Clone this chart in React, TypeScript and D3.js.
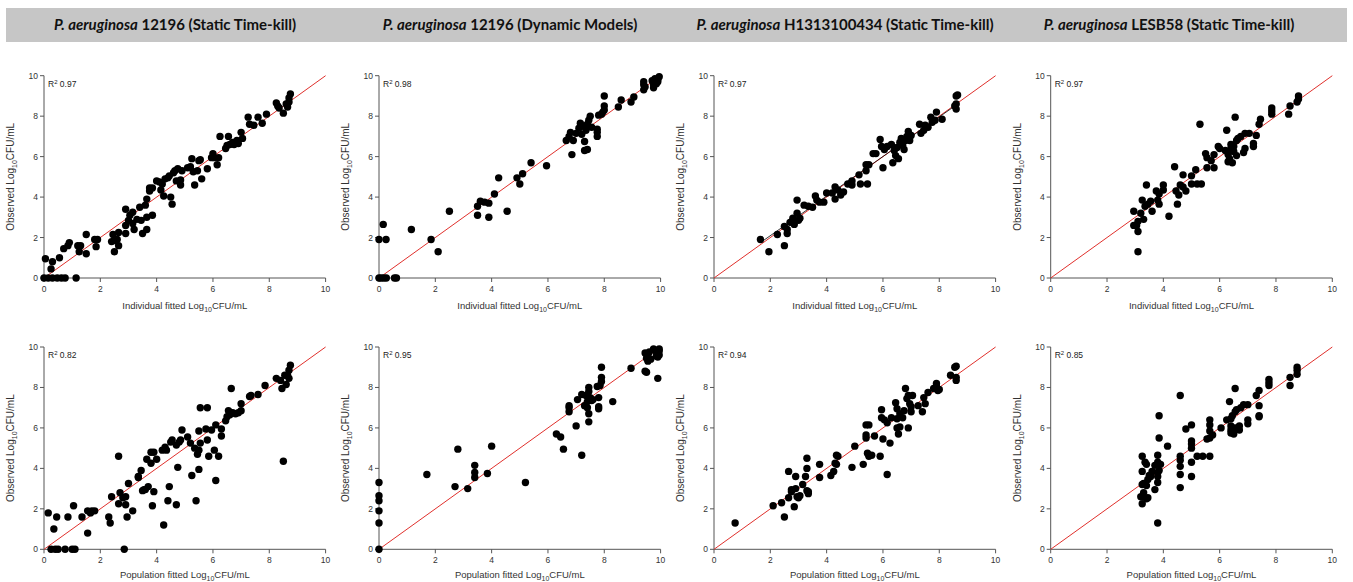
import React from "react";
import * as d3 from "d3";

const titles = [
  ["P. aeruginosa", " 12196 (Static Time-kill)"],
  ["P. aeruginosa", " 12196 (Dynamic Models)"],
  ["P. aeruginosa", " H1313100434 (Static Time-kill)"],
  ["P. aeruginosa", " LESB58 (Static Time-kill)"],
];
const titleCenters = [175, 510, 845, 1169];
const xTitles = ["Individual fitted ", "Population fitted "];
const r2Top = ["0.97", "0.98", "0.97", "0.97"];
const r2Bottom = ["0.82", "0.95", "0.94", "0.85"];
const ticks = [0, 2, 4, 6, 8, 10];

const p1Ind: number[][] = [
  [0,0],[0.15,0],[0.3,0],[0.47,0],[0.62,0],[0.75,0],[1.14,0],
  [0.05,0.95],[0.3,0.8],[0.25,0.45],[0.55,1.0],[0.7,1.45],[0.85,1.6],[0.9,1.75],[1.2,1.6],[1.25,1.3],[1.3,1.6],[1.5,2.15],[1.5,1.2],[1.8,1.9],[1.85,1.55],[1.9,1.9],
  [2.4,1.8],[2.5,1.85],[2.45,2.15],[2.5,1.3],[2.6,1.9],[2.65,1.6],[2.65,2.25],[2.9,2.2],[2.9,3.4],[2.9,2.6],[3.0,2.85],[3.05,3.1],[3.15,3.25],[3.15,2.7],[3.2,2.4],[3.3,2.9],[3.4,3.5],[3.45,2.85],[3.5,2.2],[3.6,3.6],[3.65,3.0],[3.65,2.4],[3.65,3.9],[3.75,4.3],[3.75,4.45],[3.85,3.1],[3.85,4.45],
  [4.0,4.8],[4.1,4.75],[4.15,4.35],[4.2,4.65],[4.25,4.05],[4.3,4.9],[4.4,4.95],[4.45,5.05],[4.5,4.0],[4.55,3.65],[4.6,5.2],[4.65,5.3],[4.7,4.8],[4.75,5.4],[4.85,4.6],[4.85,4.85],[4.9,5.3],
  [5.1,5.45],[5.2,5.5],[5.25,5.9],[5.3,5.25],[5.35,4.6],[5.45,5.3],[5.5,5.8],[5.55,5.85],[5.6,4.9],[5.8,5.4],[5.95,5.95],[6.0,6.15],[6.05,5.95],[6.15,5.6],[6.2,5.95],[6.25,7.0],
  [6.45,6.4],[6.5,6.55],[6.55,7.0],[6.6,6.6],[6.7,6.7],[6.75,6.6],[6.85,6.8],[6.9,6.65],[7.0,7.2],[7.05,6.9],[7.25,7.95],[7.3,7.6],[7.45,7.55],[7.6,7.95],[7.75,7.65],[7.9,8.1],
  [8.25,8.65],[8.3,8.5],[8.35,8.4],[8.5,8.15],[8.6,8.6],[8.65,8.45],[8.7,8.7],[8.75,9.1],[8.7,8.9],
];

const p2Ind: number[][] = [
  [0,0],[0.08,0],[0.17,0],[0.26,0],[0.55,0],[0.62,0],
  [0,1.9],[0.15,2.65],[0.25,1.9],[1.15,2.4],[1.85,1.9],[2.1,1.3],[2.5,3.3],[3.5,3.55],[3.5,3.1],[3.6,3.8],[3.75,3.75],[3.9,3.7],[3.9,3.0],[4.1,4.15],[4.25,4.95],[4.55,3.3],[4.9,4.95],[5.0,4.65],[5.1,5.15],[5.4,5.7],[5.95,5.55],
  [6.65,6.8],[6.75,7.0],[6.8,7.2],[6.85,6.1],[6.9,6.8],[7.0,7.15],[7.1,7.4],[7.15,7.65],[7.2,7.1],[7.25,7.5],[7.3,6.75],[7.3,6.3],[7.35,7.3],[7.4,7.6],[7.4,6.35],[7.45,7.8],[7.5,8.0],[7.55,7.45],[7.75,7.35],[7.75,7.0],[7.75,7.2],[7.8,8.05],[7.9,8.1],[7.95,8.2],[8.0,9.0],[8.0,8.5],[8.0,8.3],
  [8.5,8.45],[8.6,8.8],[8.95,8.7],[9.05,8.95],[9.4,9.3],[9.4,9.55],[9.4,9.7],[9.45,9.45],[9.75,9.4],[9.8,9.85],[9.85,9.6],[9.9,9.7],[9.95,9.95],[9.9,9.8],[9.7,9.75],[9.75,9.55],
];

const p3Ind: number[][] = [
  [1.65,1.9],[1.95,1.3],[2.25,2.15],[2.5,1.6],[2.5,2.55],[2.6,2.2],[2.6,2.4],[2.7,2.75],[2.8,2.95],[2.85,2.65],[2.95,3.85],[2.95,3.2],[3.0,2.85],[3.05,2.95],[3.2,3.6],[3.35,3.55],[3.5,3.5],[3.6,4.05],[3.65,3.85],[3.75,3.75],[3.9,3.75],
  [4.0,4.2],[4.2,4.2],[4.3,4.5],[4.3,3.9],[4.4,4.35],[4.5,4.1],[4.6,4.25],[4.75,4.65],[4.9,4.8],[4.9,4.6],[5.15,5.1],[5.2,4.65],[5.4,5.6],[5.45,4.65],[5.4,5.3],[5.5,5.6],[5.65,6.15],[5.75,6.15],[5.9,6.85],[5.95,6.5],[6.0,5.45],[6.05,6.35],[6.15,6.5],
  [6.3,6.6],[6.35,5.7],[6.4,6.3],[6.45,6.05],[6.5,6.45],[6.55,5.9],[6.6,6.7],[6.65,6.9],[6.7,6.55],[6.75,6.35],[6.8,6.8],[6.85,7.0],[6.9,7.25],[6.95,6.8],[7.0,7.05],
  [7.3,7.6],[7.35,7.15],[7.45,7.3],[7.5,7.55],[7.6,7.45],[7.7,7.95],[7.75,7.7],[7.85,7.8],[7.9,8.2],[8.1,7.85],[8.55,8.5],[8.6,8.6],[8.6,8.35],[8.6,9.0],[8.65,9.05],
];
const p3RegLine: number[][] = [[1.65,1.75],[8.6,8.55]];

const p4Ind: number[][] = [
  [2.95,3.3],[2.95,2.6],[3.05,2.6],[3.1,2.3],[3.1,2.8],[3.1,1.3],[3.2,3.2],[3.25,3.85],[3.3,2.9],[3.35,3.55],[3.4,4.6],[3.45,3.65],[3.55,3.8],[3.6,3.3],[3.75,4.3],[3.8,3.85],[3.85,3.65],[3.85,4.15],
  [4.0,4.6],[4.0,4.35],[4.2,3.05],[4.4,5.5],[4.45,4.3],[4.5,3.65],[4.55,4.1],[4.6,4.6],[4.7,5.1],[4.7,4.5],[4.8,4.3],[5.0,5.05],[5.0,4.65],[5.15,5.35],[5.2,4.65],[5.3,7.6],[5.35,4.65],
  [5.5,6.15],[5.55,5.95],[5.55,5.45],[5.7,5.8],[5.8,6.1],[5.8,5.45],[5.95,6.5],[6.0,6.4],[6.2,6.3],[6.25,7.3],[6.3,5.75],[6.3,6.1],[6.35,5.9],[6.4,6.6],[6.4,6.4],[6.45,5.7],[6.5,6.25],[6.5,6.5],[6.55,7.95],[6.6,6.8],[6.6,6.05],[6.65,6.9],[6.75,7.0],
  [6.85,6.2],[6.9,6.4],[6.9,7.15],[7.05,7.15],[7.2,6.5],[7.2,6.65],[7.3,7.05],[7.4,7.6],[7.45,7.85],[7.85,8.4],[7.85,8.1],[7.85,8.25],[8.45,8.1],[8.5,8.5],[8.75,8.7],[8.8,9.0],[8.8,8.85],
];

const p1Pop: number[][] = [
  [0.15,1.8],[0.25,0],[0.35,1.0],[0.4,0],[0.45,1.6],[0.5,0],[0.75,0],[0.85,1.6],[1.0,0],[1.05,2.15],[1.1,0],[1.35,1.6],[1.55,0.8],[1.55,1.9],[1.65,1.8],[1.7,1.9],[1.8,1.9],
  [2.3,1.6],[2.35,1.3],[2.4,2.6],[2.65,4.6],[2.65,2.25],[2.7,2.8],[2.8,2.55],[2.85,0],[2.9,2.2],[2.9,2.6],[2.95,1.6],[3.0,3.25],[3.15,1.9],[3.35,3.55],[3.35,3.6],[3.45,3.9],[3.5,2.9],[3.55,2.95],[3.6,2.95],[3.65,4.45],[3.7,3.1],[3.8,4.25],[3.8,4.8],[3.85,2.15],[3.9,4.8],[3.9,2.85],
  [4.0,4.45],[4.2,4.9],[4.25,1.2],[4.3,5.05],[4.35,4.9],[4.4,2.4],[4.45,3.1],[4.5,5.3],[4.55,5.4],[4.7,5.15],[4.7,2.2],[4.75,4.05],[4.8,5.3],[4.85,5.4],[4.9,5.9],
  [5.1,5.55],[5.2,5.25],[5.25,3.65],[5.35,5.0],[5.4,2.4],[5.45,4.7],[5.5,4.9],[5.5,3.95],[5.55,5.25],[5.5,5.85],[5.55,7.0],[5.75,5.95],[5.8,7.0],[5.8,5.4],[5.85,4.6],[5.95,5.9],[6.05,4.9],[6.1,6.15],[6.1,3.4],[6.2,4.6],[6.3,5.6],[6.3,5.95],
  [6.45,6.35],[6.5,6.55],[6.55,6.85],[6.6,6.65],[6.65,7.95],[6.7,6.75],[6.8,6.7],[6.9,6.75],[7.0,7.2],[7.0,6.85],[7.3,7.55],[7.35,7.6],[7.6,7.65],[7.85,8.1],
  [8.25,8.45],[8.4,8.35],[8.45,7.95],[8.5,4.35],[8.55,8.6],[8.6,8.15],[8.65,8.6],[8.7,8.45],[8.7,8.85],[8.75,9.1],
];

const p2Pop: number[][] = [
  [0,0],[0,1.3],[0,1.9],[0,2.4],[0,2.65],[0,3.3],
  [1.7,3.7],[2.7,3.1],[2.8,4.95],[3.15,3.0],[3.4,4.15],[3.4,3.8],[3.4,3.55],[3.85,3.75],[4.0,5.1],[5.2,3.3],
  [6.3,5.7],[6.45,5.55],[6.55,4.95],[6.75,6.8],[6.75,7.1],[6.75,7.0],[7.0,6.1],[7.05,7.4],[7.2,4.65],[7.2,7.65],[7.3,7.1],[7.35,7.6],[7.4,7.3],[7.4,7.0],[7.45,6.3],[7.45,6.7],[7.45,7.8],[7.45,8.0],[7.5,7.5],[7.55,7.35],[7.6,7.4],[7.75,8.05],[7.8,7.5],[7.8,7.05],[7.8,6.95],[7.85,8.1],[7.9,9.0],[7.9,8.3],[7.9,8.5],[8.3,7.3],
  [8.95,8.95],[9.45,8.8],[9.5,8.75],[9.45,9.7],[9.5,9.45],[9.55,9.3],[9.6,9.75],[9.65,9.4],[9.75,9.9],[9.85,9.75],[9.85,9.55],[9.9,8.45],[9.95,9.6],[9.95,9.9],[9.95,9.8],[9.9,9.5],[9.55,9.55],
];

const p3Pop: number[][] = [
  [0.75,1.3],[2.1,2.15],[2.4,2.3],[2.5,1.6],[2.65,2.55],[2.65,3.85],[2.75,2.95],[2.75,2.85],[2.85,2.1],[2.9,3.6],[2.9,3.0],[2.95,2.6],[3.0,2.55],[3.05,2.65],[3.15,3.2],[3.25,3.6],[3.3,4.0],[3.3,4.5],[3.3,2.9],[3.35,2.85],[3.35,2.75],[3.75,4.2],[3.75,3.55],
  [4.15,3.65],[4.25,3.85],[4.3,4.25],[4.35,4.65],[4.4,4.6],[4.35,4.2],[4.9,4.05],[5.0,5.1],[5.3,4.2],[5.4,5.5],[5.4,5.65],[5.4,6.15],[5.45,4.75],[5.5,4.6],[5.5,6.15],[5.6,4.65],[5.7,5.6],[5.9,4.6],[5.95,6.9],[5.95,6.5],[6.0,5.45],[6.05,6.4],[6.15,6.25],[6.25,5.25],[6.3,6.5],[6.15,3.7],
  [6.45,7.25],[6.5,6.95],[6.5,6.0],[6.5,6.45],[6.55,5.7],[6.6,6.05],[6.6,6.7],[6.7,6.5],[6.75,6.85],[6.8,7.95],[6.85,7.45],[6.9,6.0],[6.9,7.6],[6.95,7.2],[7.0,7.05],[7.0,6.8],[7.05,7.6],[7.25,7.1],[7.4,6.8],[7.45,7.5],[7.5,7.2],[7.6,7.75],[7.8,7.95],[7.9,8.2],[7.9,8.05],[7.95,7.85],[8.0,7.9],
  [8.4,8.6],[8.55,9.0],[8.6,9.05],[8.6,8.5],[8.6,8.35],
];

const p4Pop: number[][] = [
  [3.2,2.6],[3.25,3.85],[3.25,2.25],[3.25,4.6],[3.25,3.2],[3.3,2.8],[3.3,3.25],[3.35,4.3],[3.4,3.15],[3.4,4.2],[3.4,2.5],[3.45,3.45],[3.45,2.55],[3.5,3.65],[3.55,3.6],[3.6,3.85],[3.7,2.95],[3.7,4.15],[3.8,4.3],[3.8,3.8],[3.8,3.6],[3.8,3.3],[3.8,4.65],[3.85,5.5],[3.85,6.6],[3.9,4.2],[3.85,3.9],[3.8,1.3],
  [4.15,5.1],[4.6,7.6],[4.6,4.6],[4.6,4.4],[4.6,4.1],[4.6,3.7],[4.6,3.05],[4.8,5.95],[5.0,6.15],[5.0,5.35],[5.0,5.2],[5.0,5.0],[5.0,4.3],[5.0,3.6],[5.2,4.6],[5.4,4.6],[5.55,5.45],[5.65,6.4],[5.65,6.15],[5.65,5.85],[5.65,5.5],[5.65,4.6],[5.75,5.65],
  [6.05,6.0],[6.25,6.4],[6.35,7.3],[6.4,6.45],[6.4,6.1],[6.4,5.9],[6.4,5.75],[6.45,6.6],[6.5,5.7],[6.55,6.8],[6.55,7.95],[6.55,6.0],[6.6,6.9],[6.7,5.9],[6.7,6.1],[6.75,7.0],[6.85,7.15],[7.0,6.2],[7.0,6.4],[7.0,7.15],
  [7.3,7.6],[7.4,7.85],[7.4,7.1],[7.4,6.6],[7.4,6.55],[7.75,8.1],[7.75,8.25],[7.75,8.4],[8.5,8.1],[8.5,8.5],[8.75,8.65],[8.75,8.85],[8.75,9.0],
];

const topData = [p1Ind, p2Ind, p3Ind, p4Ind];
const bottomData = [p1Pop, p2Pop, p3Pop, p4Pop];

const W = 1353, H = 582;
const colX0 = [44, 379, 714, 1050.7];
const plotW = 281.6;
const rowTop = [75.7, 347];
const plotH = 202.3;

const AXIS = "#555";
const TXT = "#333";
const SANS = "'Liberation Sans', Arial, sans-serif";

function Panel({ col, row, data, r2, reg }: { col: number; row: number; data: number[][]; r2: string; reg?: number[][] }) {
  const x0 = colX0[col];
  const y0 = rowTop[row];
  const xs = d3.scaleLinear().domain([0, 10]).range([x0, x0 + plotW]);
  const ys = d3.scaleLinear().domain([0, 10]).range([y0 + plotH, y0]);
  const line = d3.line<number[]>().x((d) => xs(d[0])).y((d) => ys(d[1]));
  const bottom = y0 + plotH;
  const titleOffset = row === 0 ? 31 : 29;
  return (
    <g>
      <line x1={x0} x2={x0} y1={y0} y2={bottom} stroke={AXIS} strokeWidth={1} />
      <line x1={x0} x2={x0 + plotW} y1={bottom} y2={bottom} stroke={AXIS} strokeWidth={1} />
      {ticks.map((t) => (
        <g key={"y" + t}>
          <line x1={x0 - 4} x2={x0} y1={ys(t)} y2={ys(t)} stroke={AXIS} strokeWidth={1} />
          <text x={x0 - 6} y={ys(t) + 3} textAnchor="end" fontSize={8.5} fill={TXT} fontFamily={SANS}>{t}</text>
        </g>
      ))}
      {ticks.map((t) => (
        <g key={"x" + t}>
          <line x1={xs(t)} x2={xs(t)} y1={bottom} y2={bottom + 4} stroke={AXIS} strokeWidth={1} />
          <text x={xs(t)} y={bottom + 14} textAnchor="middle" fontSize={8.5} fill={TXT} fontFamily={SANS}>{t}</text>
        </g>
      ))}
      <path d={line([[0, 0], [10, 10]]) || ""} stroke="#e0302c" strokeWidth={1} fill="none" />
      {data.map((d, i) => (
        <circle key={i} cx={xs(d[0])} cy={ys(d[1])} r={3.7} fill="#000" />
      ))}
      {reg && <path d={line(reg) || ""} stroke="#000" strokeWidth={0.8} fill="none" />}
      <text x={x0 + 4} y={y0 + 11} fontSize={8.5} fill="#222" fontFamily={SANS}>
        R<tspan dy={-3} fontSize={6}>2</tspan><tspan dy={3}> {r2}</tspan>
      </text>
      <text x={x0 + plotW / 2} y={bottom + titleOffset} textAnchor="middle" fontSize={9.5} fill={TXT} fontFamily={SANS}>
        {xTitles[row]}Log<tspan dy={2.5} fontSize={7}>10</tspan><tspan dy={-2.5}>CFU/mL</tspan>
      </text>
      <text transform={`translate(${x0 - 30},${y0 + plotH / 2}) rotate(-90)`} textAnchor="middle" fontSize={10} fill={TXT} fontFamily={SANS}>
        Observed Log<tspan dy={3} fontSize={7}>10</tspan><tspan dy={-3}>CFU/mL</tspan>
      </text>
    </g>
  );
}

export default function App() {
  return (
    <svg width={W} height={H} style={{ position: "absolute", left: 0, top: 0, background: "#fff" }}>
      <rect x={0} y={0} width={W} height={H} fill="#fff" />
      <rect x={6} y={8} width={1341} height={34} fill="#c6c6c6" />
      {titles.map((t, i) => (
        <text key={i} x={titleCenters[i]} y={30} textAnchor="middle" fontSize={15} fontWeight="bold" fill="#111" fontFamily="Lato, 'Open Sans', sans-serif">
          <tspan fontStyle="italic">{t[0]}</tspan>
          <tspan>{t[1]}</tspan>
        </text>
      ))}
      {topData.map((d, i) => (
        <Panel key={"t" + i} col={i} row={0} data={d} r2={r2Top[i]} reg={i === 2 ? p3RegLine : undefined} />
      ))}
      {bottomData.map((d, i) => (
        <Panel key={"b" + i} col={i} row={1} data={d} r2={r2Bottom[i]} />
      ))}
    </svg>
  );
}
